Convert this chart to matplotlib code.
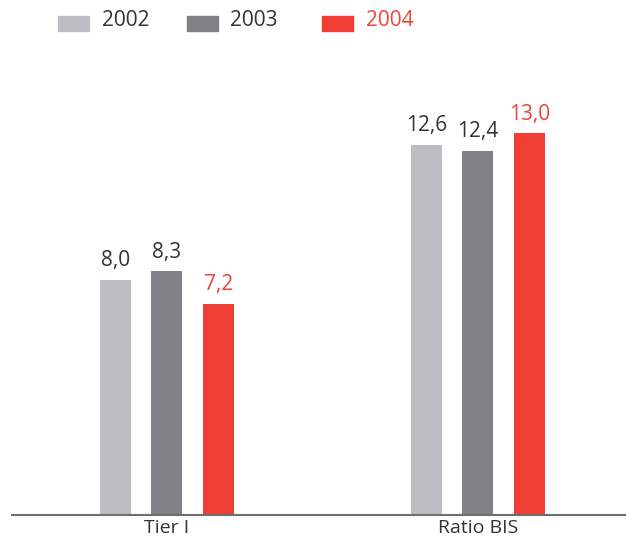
import matplotlib
matplotlib.use("Agg")
import matplotlib.pyplot as plt
from matplotlib.patches import Rectangle

plt.rcParams['font.family'] = ['Open Sans', 'DejaVu Sans']

categories = ["Tier I", "Ratio BIS"]
years = ["2002", "2003", "2004"]
values = {
    "2002": [8.0, 12.6],
    "2003": [8.3, 12.4],
    "2004": [7.2, 13.0],
}
colors = {"2002": "#bcbdc0", "2003": "#808184", "2004": "#ef3e33"}
label_colors = {"2002": "#333333", "2003": "#333333", "2004": "#ef4438"}

W, H = 626, 540
fig = plt.figure(figsize=(W / 100, H / 100), dpi=100)
ax = fig.add_axes([12 / W, 1 - 515 / H, 1 - 12 / W, (515 - 60) / H])

width = 0.1
offsets = [-0.166, 0.0, 0.166]
for yr, off in zip(years, offsets):
    xs = [i + off for i in range(len(categories))]
    bars = ax.bar(xs, values[yr], width=width, color=colors[yr], zorder=2)
    for b, v in zip(bars, values[yr]):
        ax.text(b.get_x() + b.get_width() / 2, v + 0.3, f"{v:.1f}".replace(".", ","),
                ha="center", va="bottom", fontsize=15, color=label_colors[yr])

ax.set_xlim(-0.498, 1.476)
ax.set_ylim(0, 15.5)
ax.set_xticks(range(len(categories)))
ax.set_xticklabels(categories, fontsize=14, color="#333333")
ax.tick_params(axis="x", length=0, pad=3)
ax.set_yticks([])
for s in ["top", "right", "left"]:
    ax.spines[s].set_visible(False)
ax.spines["bottom"].set_color("#6d6e71")
ax.spines["bottom"].set_linewidth(1.5)

# legend row across the top
legend_x = [(58, 102), (187, 230), (322, 366)]
for yr, (px, tx) in zip(years, legend_x):
    fig.patches.append(Rectangle((px / W, 1 - 31 / H), 31 / W, 15 / H,
                                 transform=fig.transFigure, color=colors[yr]))
    fig.text(tx / W, 1 - 21 / H, yr, ha="left", va="center", fontsize=15,
             color=label_colors[yr])

fig.savefig("out.png", dpi=100)
